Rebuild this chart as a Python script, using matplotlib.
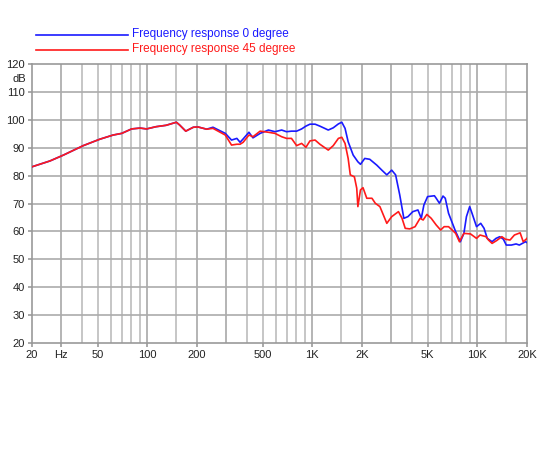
import numpy as np
import matplotlib
matplotlib.use("Agg")
import matplotlib.pyplot as plt
from matplotlib.lines import Line2D

plt.rcParams['font.family'] = ['Liberation Sans', 'DejaVu Sans']

# common low-frequency part (both curves overlap here)
low_f = [20, 25.7, 31, 40.9, 51.5, 62, 70, 80.3, 90.4, 99, 113, 130, 150, 157, 171, 190, 203, 229]
low_db = [83.2, 85.3, 87.4, 90.8, 93.1, 94.6, 95.2, 96.8, 97.1, 96.8, 97.6, 98.1, 99.2, 98.2, 96.0, 97.4, 97.5, 96.7]

# 0 degree (blue)
blue_f = [250, 297, 324, 349, 365, 381, 413, 437, 483, 542, 594, 652, 698, 748, 804, 862, 915, 968,
          1040, 1112, 1250, 1340, 1440, 1510, 1580, 1650, 1770, 1890, 1960, 2080, 2230, 2460, 2640,
          2830, 3030, 3200, 3390, 3590, 3800, 4070, 4370, 4580, 4750, 5000, 5500, 5640, 5900, 6200,
          6400, 6700, 7400, 7900, 8300, 8600, 9000, 9300, 9900, 10500, 11000, 11500, 12300, 13000,
          13700, 14400, 15000, 16100, 17200, 18000, 19600, 20000]
blue_db = [97.4, 95.2, 92.8, 93.4, 92.0, 93.2, 95.6, 93.6, 95.2, 96.4, 95.8, 96.4, 95.8, 96.0, 96.0, 96.8, 97.8, 98.5,
           98.5, 97.8, 96.4, 97.2, 98.6, 99.2, 97.0, 92.2, 87.4, 85.0, 84.1, 86.2, 85.9, 83.8, 82.0,
           80.3, 82.0, 80.3, 73.1, 64.7, 65.3, 67.1, 67.7, 64.7, 69.5, 72.5, 72.8, 71.9, 70.1, 72.7,
           71.9, 66.5, 59.9, 56.3, 59.3, 65.3, 68.9, 66.5, 61.7, 62.9, 61.1, 57.5, 56.3, 57.5,
           58.1, 57.2, 55.1, 55.1, 55.5, 55.1, 56.3, 56.0]

# 45 degree (red)
red_f = [250, 297, 324, 349, 365, 381, 413, 437, 483, 542, 594, 652, 698, 748, 804, 862, 915, 968,
         1040, 1112, 1250, 1340, 1440, 1510, 1580, 1650, 1700, 1800, 1860, 1890, 1960, 2030, 2140, 2300,
         2410, 2570, 2830, 3030, 3330, 3500, 3660, 3900, 4200, 4500, 4700, 4950, 5260, 5640, 6000,
         6300, 6700, 7400, 7800, 8300, 9100, 9900, 10400, 11300, 11700, 12300, 13100, 14100, 14800,
         15800, 16800, 18200, 19000, 19800, 20000]
red_db = [97.0, 94.6, 91.0, 91.3, 91.3, 92.0, 94.6, 94.0, 96.0, 95.6, 95.2, 94.0, 93.4, 93.4, 90.8, 91.6, 90.2, 92.5,
          92.8, 91.3, 89.2, 90.8, 93.4, 93.8, 91.6, 86.2, 80.3, 79.6, 75.5, 68.9, 74.9, 75.7, 71.9, 71.9,
          70.1, 68.9, 62.9, 65.3, 67.1, 64.7, 61.1, 60.9, 61.7, 64.7, 64.1, 66.1, 64.7, 62.3, 60.5,
          61.7, 61.7, 59.3, 56.3, 59.3, 59.1, 57.5, 58.7, 58.1, 56.9, 55.7, 56.7, 58.1, 57.2,
          56.9, 58.7, 59.5, 56.3, 57.2, 57.5]

grid_f = [30, 40, 50, 60, 70, 80, 90, 100, 150, 200, 300, 400, 500, 600, 700, 800, 900, 1000,
          1500, 2000, 3000, 4000, 5000, 6000, 7000, 8000, 9000, 10000, 15000]
dark_f = [30, 100, 200, 300, 1000, 2000, 3000, 10000]
tick_f = [20, 30, 50, 100, 200, 500, 1000, 2000, 5000, 10000, 20000]
tick_lbl = ['20', 'Hz', '50', '100', '200', '500', '1K', '2K', '5K', '10K', '20K']
y_ticks = [20, 30, 40, 50, 60, 70, 80, 90, 100, 110, 120]

fig = plt.figure(figsize=(5.5, 4.5), dpi=100)
ax = fig.add_axes([0.0582, 0.2382, 0.8998, 0.6189])

gcol = '#bcbcbc'
for f in grid_f:
    ax.axvline(f, color='#a8a8a8' if f in dark_f else gcol, lw=1.2, zorder=1)
for y in y_ticks[1:-1]:
    ax.axhline(y, color='#acacac', lw=1.2, zorder=1)

ax.plot(low_f + blue_f, low_db + blue_db, color='#1a1aff', lw=1.2, zorder=3)
ax.plot(low_f + red_f, low_db + red_db, color='#ff1a1a', lw=1.2, zorder=4)

ax.set_xscale('log')
ax.set_xlim(20, 20000)
ax.set_ylim(20, 120)
ax.xaxis.set_minor_locator(matplotlib.ticker.NullLocator())
ax.set_xticks(tick_f)
ax.set_xticklabels(tick_lbl)
ax.set_yticks(y_ticks)
ax.tick_params(axis='both', labelsize=8, color='#999999', length=3, width=1.2, pad=2, labelcolor='#222222')
for s in ax.spines.values():
    s.set_color('#999999')
    s.set_linewidth(1.2)

# unit label under the top tick
ax.text(-0.012, 0.948, 'dB', transform=ax.transAxes, ha='right', va='center', fontsize=8, color='#222222')

# legend drawn by hand at the top
fig.add_artist(Line2D([36/550, 128/550], [1-35/450, 1-35/450], color='#1a1aff', lw=1.2))
fig.add_artist(Line2D([36/550, 128/550], [1-50/450, 1-50/450], color='#ff1a1a', lw=1.2))
fig.text(132/550, 1-34/450, 'Frequency response 0 degree', color='#1a1aff', fontsize=8.5, va='center')
fig.text(132/550, 1-49/450, 'Frequency response 45 degree', color='#ff1a1a', fontsize=8.5, va='center')

fig.savefig('out.png', dpi=100)
